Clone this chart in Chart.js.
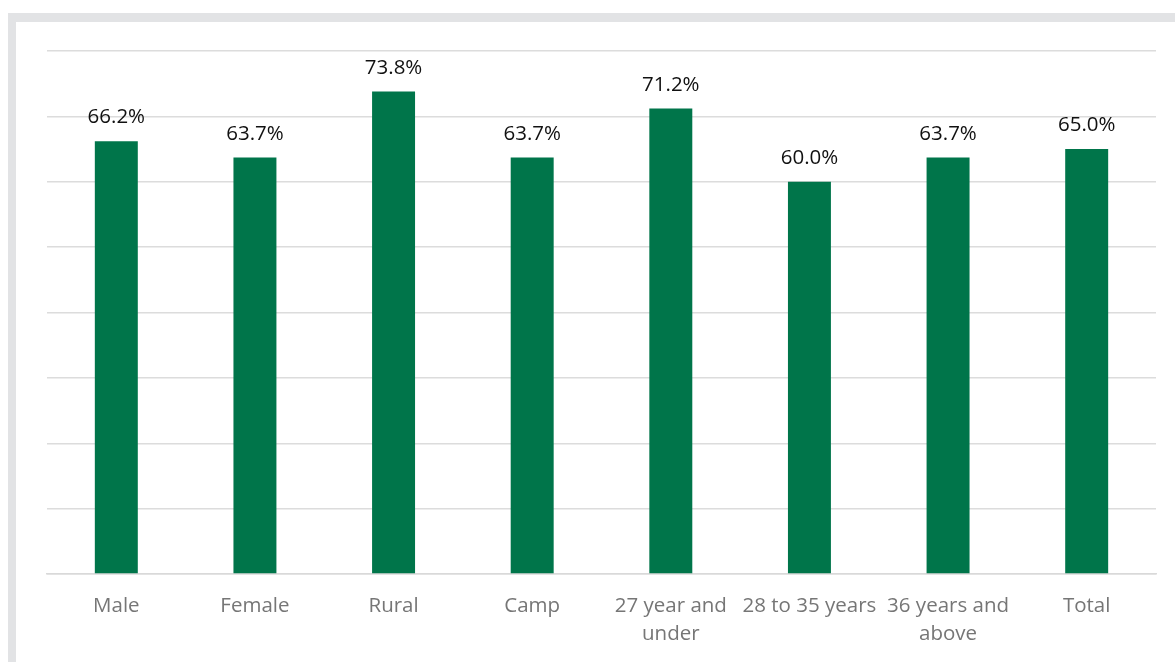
<!DOCTYPE html>
<html lang="en">
<head>
    <meta charset="UTF-8">
    <title>Share by group</title>
    <script src="https://cdn.jsdelivr.net/npm/chart.js"></script>
    <style>
        html, body { margin: 0; padding: 0; background: #fff; }
        .frame {
            position: absolute;
            left: 8px;
            top: 13px;
            width: 1175px;
            height: 662px;
            border-left: 8px solid #e2e3e5;
            border-top: 9px solid #e2e3e5;
        }
        #chartWrap { position: absolute; left: 0; top: 0; width: 1175px; height: 662px; }
    </style>
</head>
<body>
    <div class="frame"></div>
    <div id="chartWrap">
        <canvas id="groupChart"></canvas>
    </div>

    <script>
        const categories = [
            'Male',
            'Female',
            'Rural',
            'Camp',
            ['27 year and', 'under'],
            '28 to 35 years',
            ['36 years and', 'above'],
            'Total'
        ];
        const shares = [66.2, 63.7, 73.8, 63.7, 71.2, 60.0, 63.7, 65.0];
        const yMax = 80;
        const yStep = 10;

        const fontFamily = '"Open Sans", sans-serif';

        // Percentage labels drawn above each bar
        const valueLabels = {
            id: 'valueLabels',
            afterDatasetsDraw(chart) {
                const ctx = chart.ctx;
                const meta = chart.getDatasetMeta(0);
                ctx.save();
                ctx.font = '20.5px ' + fontFamily;
                ctx.fillStyle = '#111';
                ctx.textAlign = 'center';
                ctx.textBaseline = 'alphabetic';
                meta.data.forEach((bar, i) => {
                    ctx.fillText(shares[i].toFixed(1) + '%', bar.x, bar.y - 18);
                });
                ctx.restore();
            }
        };

        new Chart(document.getElementById('groupChart'), {
            type: 'bar',
            data: {
                labels: categories,
                datasets: [{
                    data: shares,
                    backgroundColor: '#00754a',
                    borderWidth: 0,
                    barPercentage: 0.62,
                    categoryPercentage: 0.5
                }]
            },
            options: {
                responsive: true,
                maintainAspectRatio: false,
                animation: false,
                layout: {
                    padding: { left: 47, right: 19, top: 51, bottom: 4 }
                },
                plugins: {
                    legend: { display: false },
                    tooltip: { enabled: false }
                },
                scales: {
                    x: {
                        grid: { display: false },
                        border: { color: '#d9d9d9', width: 1.5 },
                        ticks: {
                            color: '#767676',
                            font: { family: fontFamily, size: 20.5, lineHeight: '28px' },
                            maxRotation: 0,
                            autoSkip: false,
                            padding: 10
                        }
                    },
                    y: {
                        min: 0,
                        max: yMax,
                        ticks: { display: false, stepSize: yStep },
                        grid: { color: '#dcdcdc', lineWidth: 1.5, drawTicks: false },
                        border: { display: false }
                    }
                }
            },
            plugins: [valueLabels]
        });
    </script>
</body>
</html>
